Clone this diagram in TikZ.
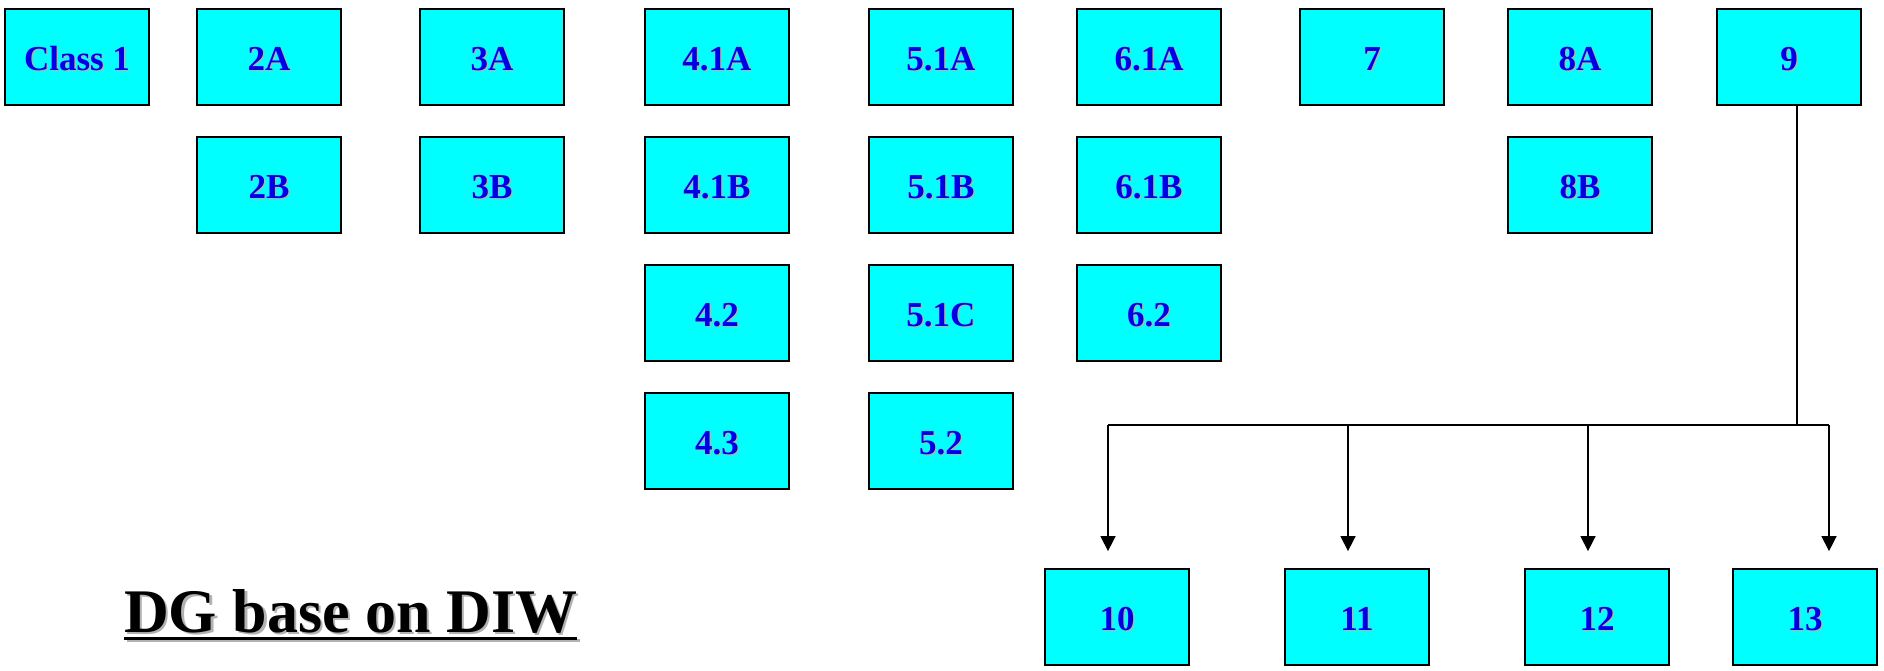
\documentclass[tikz,border=0pt]{standalone}
\usepackage{fontspec}
\setmainfont{Liberation Serif}
\usetikzlibrary{arrows.meta}
\definecolor{boxcyan}{RGB}{0,255,255}
\definecolor{lblblue}{RGB}{0,0,230}
\newcommand\shtext[2]{\leavevmode\rlap{\kern#2\raisebox{-#2}{\textcolor{black!30}{#1}}}#1}
\tikzset{
  box/.style={draw=black, line width=1.8pt, fill=boxcyan, minimum width=144pt, minimum height=96pt, inner sep=0pt,
    text height=26pt, text depth=0pt,
    font=\fontsize{35}{40}\selectfont\bfseries, text=lblblue},
  conn/.style={line width=1.5pt, draw=black},
  arr/.style={conn, -{Triangle[length=15pt,width=15pt]}, shorten >=17pt},
}
\begin{document}
\begin{tikzpicture}[x=1pt,y=-1pt]
\useasboundingbox (0,0) rectangle (1884,670);
% row 1
\node[box] (c1)  at (77,57)   {\shtext{Class 1}{1.5pt}};
\node[box] (c2a) at (269,57)  {\shtext{2A}{1.5pt}};
\node[box] (c3a) at (492,57)  {\shtext{3A}{1.5pt}};
\node[box] (c41a) at (717,57) {\shtext{4.1A}{1.5pt}};
\node[box] (c51a) at (941,57) {\shtext{5.1A}{1.5pt}};
\node[box] (c61a) at (1149,57) {\shtext{6.1A}{1.5pt}};
\node[box] (c7) at (1372,57)  {\shtext{7}{1.5pt}};
\node[box] (c8a) at (1580,57) {\shtext{8A}{1.5pt}};
\node[box] (c9) at (1789,57)  {\shtext{9}{1.5pt}};
% row 2
\node[box] (c2b) at (269,185)  {\shtext{2B}{1.5pt}};
\node[box] (c3b) at (492,185)  {\shtext{3B}{1.5pt}};
\node[box] (c41b) at (717,185) {\shtext{4.1B}{1.5pt}};
\node[box] (c51b) at (941,185) {\shtext{5.1B}{1.5pt}};
\node[box] (c61b) at (1149,185) {\shtext{6.1B}{1.5pt}};
\node[box] (c8b) at (1580,185) {\shtext{8B}{1.5pt}};
% row 3
\node[box] (c42) at (717,313)  {\shtext{4.2}{1.5pt}};
\node[box] (c51c) at (941,313) {\shtext{5.1C}{1.5pt}};
\node[box] (c62) at (1149,313) {\shtext{6.2}{1.5pt}};
% row 4
\node[box] (c43) at (717,441)  {\shtext{4.3}{1.5pt}};
\node[box] (c52) at (941,441)  {\shtext{5.2}{1.5pt}};
% bottom
\node[box] (c10) at (1117,617) {\shtext{10}{1.5pt}};
\node[box] (c11) at (1357,617) {\shtext{11}{1.5pt}};
\node[box] (c12) at (1597,617) {\shtext{12}{1.5pt}};
\node[box] (c13) at (1805,617) {\shtext{13}{1.5pt}};
% connectors
\coordinate (top9) at (1797,105);
\coordinate (junc) at (1797,425);
\coordinate (b10) at (1108,425);
\coordinate (b11) at (1348,425);
\coordinate (b12) at (1588,425);
\coordinate (b13) at (1829,425);
\draw[conn] (top9) -- (junc);
\draw[conn] (b10) -- (b13);
\draw[arr] (b10) -- (b10 |- c10.north);
\draw[arr] (b11) -- (b11 |- c11.north);
\draw[arr] (b12) -- (b12 |- c12.north);
\draw[arr] (b13) -- (b13 |- c13.north);
% title
\node[anchor=base west, inner sep=0pt, font=\fontsize{62}{66}\selectfont\bfseries, text=black] (title) at (124,632) {\shtext{DG base on DIW}{2.5pt}};
\draw[line width=3pt, black!30] ([shift={(2.5,8.5)}]title.base west) -- ([shift={(2.5,8.5)}]title.base east);
\draw[line width=3pt, black] ([yshift=-6pt]title.base west) -- ([yshift=-6pt]title.base east);
\end{tikzpicture}
\end{document}
